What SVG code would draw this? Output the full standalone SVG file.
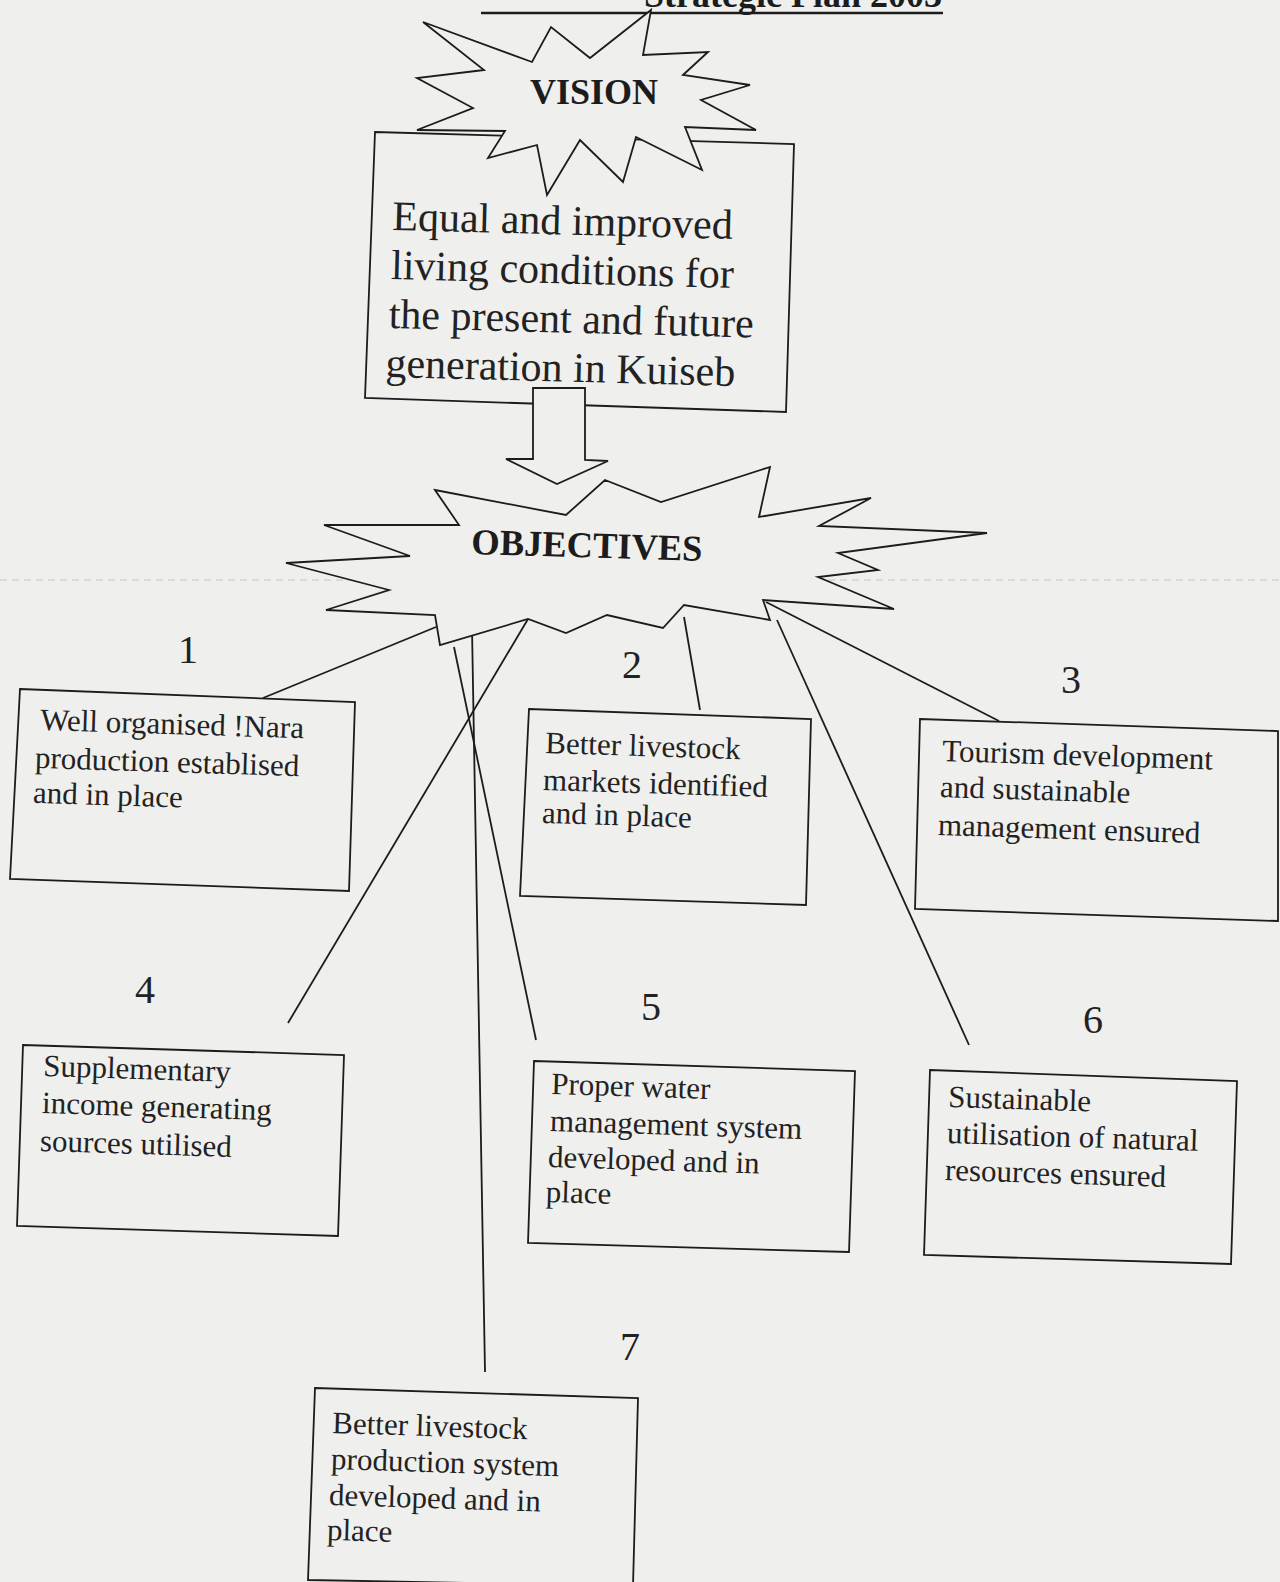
<svg xmlns="http://www.w3.org/2000/svg" width="1280" height="1582" viewBox="0 0 1280 1582">
<style>
.bg{fill:#efefed}
.shape{fill:#efefed;stroke:#1c1c1c;stroke-width:1.8;stroke-linejoin:miter}
.conn{stroke:#1c1c1c;stroke-width:1.8;fill:none}
.t{font-family:"Liberation Serif","Times New Roman",serif;fill:#222;font-size:31px}
.num{font-family:"Liberation Serif","Times New Roman",serif;fill:#222;font-size:40px;text-anchor:middle}
.big{font-family:"Liberation Serif","Times New Roman",serif;fill:#222;font-size:42px}
.head{font-family:"Liberation Serif","Times New Roman",serif;fill:#1c1c1c;font-size:36px;font-weight:bold}
</style>
<rect class="bg" x="0" y="0" width="1280" height="1582"/>
<line x1="0" y1="580" x2="1280" y2="580" stroke="#c4c4c2" stroke-width="1" stroke-dasharray="7 5"/>

<g id="title">
  <text class="head" x="942" y="7" text-anchor="end">Strategic Plan 2003</text>
  <line x1="481" y1="13" x2="943" y2="13" stroke="#1c1c1c" stroke-width="2.6"/>
</g>

<g id="connectors">
  <line class="conn" x1="436" y1="627" x2="263" y2="698"/>
  <line class="conn" x1="528" y1="619" x2="288" y2="1023"/>
  <line class="conn" x1="472" y1="628" x2="485" y2="1372"/>
  <line class="conn" x1="454" y1="647" x2="536" y2="1040"/>
  <line class="conn" x1="684" y1="617" x2="700" y2="710"/>
  <line class="conn" x1="777" y1="620" x2="969" y2="1045"/>
  <line class="conn" x1="766" y1="602" x2="999" y2="721"/>
</g>

<g id="objectives">
  <polygon class="shape" points="435,490 566,515 605,480 661,502 770,467 759,517 871,498 819,526 987,533 838,553 878,570 818,577 894,609 763,600 770,620 684,605 663,628 607,615 566,633 528,619 440,645 435,615 326,610 389,590 286,563 410,556 324,525 459,525"/>
  <text class="head" x="471" y="554" transform="rotate(1.7 471 554)" style="font-size:36.5px">OBJECTIVES</text>
</g>

<g id="vision-box">
  <polygon class="shape" points="375,132 794,144 786,412 365,398"/>
  <text class="big" transform="rotate(1.5 392 230)">
    <tspan x="392" y="230">Equal and improved</tspan>
    <tspan x="392" y="279">living conditions for</tspan>
    <tspan x="391" y="328">the present and future</tspan>
    <tspan x="389" y="377">generation in Kuiseb</tspan>
  </text>
</g>

<g id="vision">
  <polygon class="shape" points="423,22 532,62 551,27 590,58 651,10 643,55 708,52 683,75 750,85 701,100 756,130 685,127 702,170 636,137 623,182 580,140 547,195 537,145 488,158 505,131 417,130 473,108 417,78 484,70"/>
  <text class="head" x="530" y="104">VISION</text>
</g>

<g id="arrow">
  <polygon class="shape" points="533,388 585,388 585,460 608,461 557,484 506,459 533,459"/>
</g>

<g id="obj1">
  <polygon class="shape" points="20,689 355,702 349,891 10,879"/>
  <text class="num" x="188" y="663">1</text>
  <text class="t" transform="rotate(1.8 40 730)">
    <tspan x="40" y="730">Well organised !Nara</tspan>
    <tspan x="36" y="768">production establised</tspan>
    <tspan x="35" y="803">and in place</tspan>
  </text>
</g>

<g id="obj2">
  <polygon class="shape" points="529,709 811,719 806,905 520,896"/>
  <text class="num" x="632" y="678">2</text>
  <text class="t" transform="rotate(1.8 545 753)">
    <tspan x="545" y="753">Better livestock</tspan>
    <tspan x="544" y="790">markets identified</tspan>
    <tspan x="544" y="823">and in place</tspan>
  </text>
</g>

<g id="obj3">
  <polygon class="shape" points="920,719 1278,731 1278,921 915,909"/>
  <text class="num" x="1071" y="693">3</text>
  <text class="t" transform="rotate(1.8 942 761)">
    <tspan x="942" y="761">Tourism development</tspan>
    <tspan x="941" y="797">and sustainable</tspan>
    <tspan x="940" y="835">management ensured</tspan>
  </text>
</g>

<g id="obj4">
  <polygon class="shape" points="23,1045 344,1055 338,1236 17,1226"/>
  <text class="num" x="145" y="1003">4</text>
  <text class="t" transform="rotate(1.8 43 1076)">
    <tspan x="43" y="1076">Supplementary</tspan>
    <tspan x="43" y="1113">income generating</tspan>
    <tspan x="42" y="1151">sources utilised</tspan>
  </text>
</g>

<g id="obj5">
  <polygon class="shape" points="534,1061 855,1071 849,1252 528,1243"/>
  <text class="num" x="651" y="1020">5</text>
  <text class="t" transform="rotate(1.8 551 1094)">
    <tspan x="551" y="1094">Proper water</tspan>
    <tspan x="551" y="1131">management system</tspan>
    <tspan x="550" y="1167">developed and in</tspan>
    <tspan x="549" y="1202">place</tspan>
  </text>
</g>

<g id="obj6">
  <polygon class="shape" points="930,1070 1237,1081 1231,1264 924,1255"/>
  <text class="num" x="1093" y="1033">6</text>
  <text class="t" transform="rotate(1.8 948 1107)">
    <tspan x="948" y="1107">Sustainable</tspan>
    <tspan x="948" y="1143">utilisation of natural</tspan>
    <tspan x="947" y="1180">resources ensured</tspan>
  </text>
</g>

<g id="obj7">
  <polygon class="shape" points="315,1388 638,1398 633,1586 308,1580"/>
  <text class="num" x="630" y="1360">7</text>
  <text class="t" transform="rotate(1.8 332 1433)">
    <tspan x="332" y="1433">Better livestock</tspan>
    <tspan x="332" y="1469">production system</tspan>
    <tspan x="331" y="1505">developed and in</tspan>
    <tspan x="330" y="1540">place</tspan>
  </text>
</g>
</svg>
